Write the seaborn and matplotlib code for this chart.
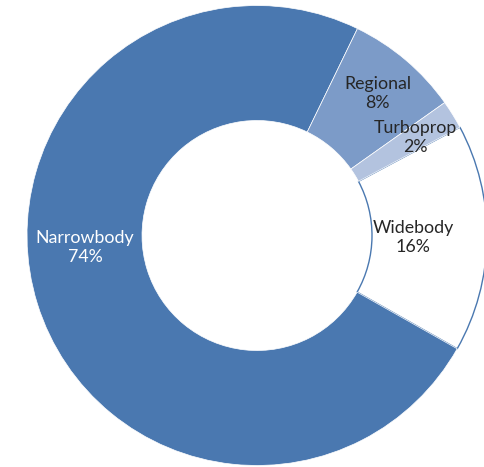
import numpy as np
import matplotlib
matplotlib.use("Agg")
import matplotlib.pyplot as plt
import seaborn as sns

# share of fleet by aircraft type
categories = ["Narrowbody", "Regional", "Turboprop", "Widebody"]
shares = [74, 8, 2, 16]
colors = ["#4a78b0", "#7c9bc8", "#b3c3df", "#ffffff"]
text_colors = ["white", "#262626", "#262626", "#262626"]

sns.set_theme(style="white")
plt.rcParams["font.family"] = ["Lato", "DejaVu Sans"]

fig = plt.figure(figsize=(4.84, 4.67), dpi=100)
ax = fig.add_axes([0, 0, 1, 1])

wedges, _ = ax.pie(shares, colors=colors, startangle=-29.5, counterclock=False,
                   radius=1.0, wedgeprops=dict(width=0.5, edgecolor="white", linewidth=0.5))
# widebody is white with a thin blue outline, kept under its neighbours
wedges[3].set_edgecolor("#4a78b0")
wedges[3].set_linewidth(1.0)
wedges[3].set_zorder(0.5)
for w in wedges[:3]:
    w.set_zorder(2)

# label radius / angle tweaks (Narrowbody label sits left of its mid angle)
label_r = [0.75, 0.81, 0.81, 0.68]
label_ang = [184, None, None, None]
for i, w in enumerate(wedges):
    ang = label_ang[i] if label_ang[i] is not None else (w.theta1 + w.theta2) / 2
    x = label_r[i] * np.cos(np.radians(ang))
    y = label_r[i] * np.sin(np.radians(ang))
    ax.text(x, y, f"{categories[i]}\n{shares[i]}%", ha="center", va="center",
            fontsize=12.8, color=text_colors[i], linespacing=1.2, zorder=5)

ax.set_xlim(-257 / 230, 227 / 230)
ax.set_ylim(-231.5 / 230, 235.5 / 230)
ax.set_aspect("auto")
ax.axis("off")

fig.savefig("out.png", dpi=100)
